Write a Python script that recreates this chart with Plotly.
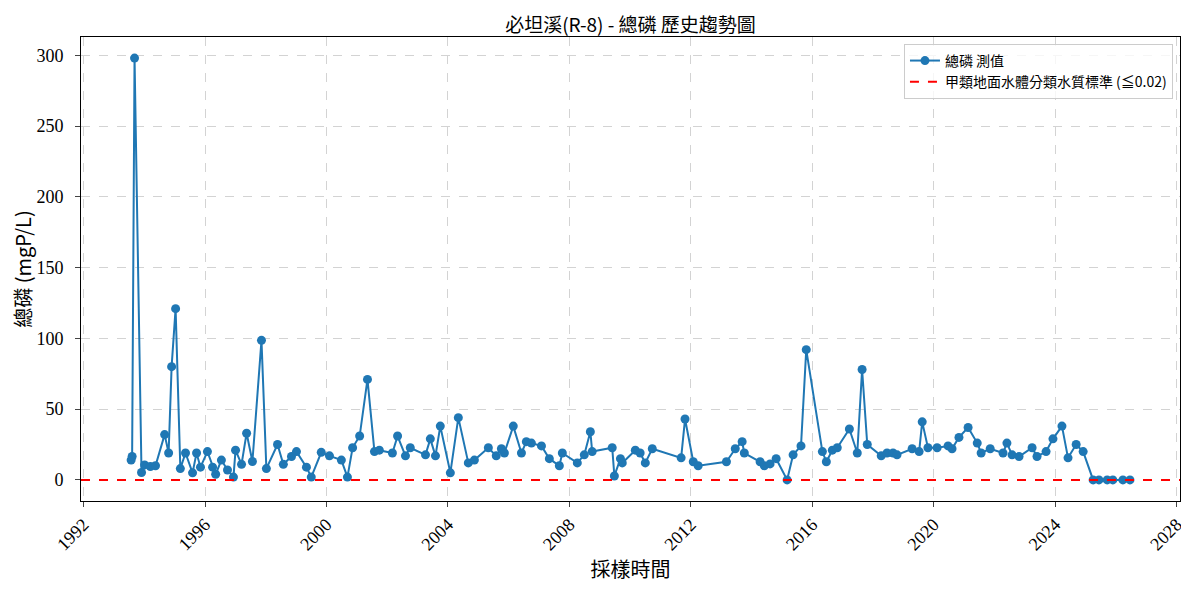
import plotly.graph_objects as go

# Colors
pri_color = "#1f77b4"
std_color = "red"

title_text = "必坦溪(R-8) - 總磷 歷史趨勢圖"
series_name = "總磷 測值"
std_name = "甲類地面水體分類水質標準 (≦0.02)"
std_value = 0.02

# ------------------------------
# Data
# ------------------------------

sample_dates = [
    "1993-07-26", "1993-08-07", "1993-09-05", "1993-11-28", "1994-01-04",
    "1994-03-14", "1994-05-15", "1994-09-02", "1994-10-20", "1994-11-25",
    "1995-01-12", "1995-03-10", "1995-05-11", "1995-08-04", "1995-09-21",
    "1995-11-07", "1996-01-30", "1996-04-01", "1996-05-08", "1996-07-16",
    "1996-09-27", "1996-12-08", "1997-01-02", "1997-03-15", "1997-05-15",
    "1997-07-24", "1997-11-10", "1998-01-08", "1998-05-22", "1998-07-31",
    "1998-11-06", "1999-01-05", "1999-05-05", "1999-07-02", "1999-10-30",
    "2000-02-06", "2000-06-28", "2000-09-09", "2000-11-10", "2001-02-03",
    "2001-05-08", "2001-07-31", "2001-09-28", "2002-03-04", "2002-05-05",
    "2002-08-08", "2002-10-05", "2003-04-06", "2003-06-03", "2003-08-04",
    "2003-10-01", "2004-01-30", "2004-05-05", "2004-09-02", "2004-11-14",
    "2005-05-01", "2005-08-04", "2005-10-05", "2005-11-10", "2006-02-25",
    "2006-06-03", "2006-08-01", "2006-10-01", "2007-01-30", "2007-05-05",
    "2007-09-02", "2007-10-08", "2008-04-05", "2008-06-28", "2008-09-09",
    "2008-10-01", "2009-05-30", "2009-06-25", "2009-09-06", "2009-09-28",
    "2010-03-04", "2010-05-01", "2010-07-02", "2010-09-24", "2011-09-06",
    "2011-10-23", "2012-01-30", "2012-03-29", "2013-03-04", "2013-06-18",
    "2013-09-09", "2013-10-05", "2014-04-13", "2014-06-03", "2014-08-11",
    "2014-10-23", "2015-03-04", "2015-05-15", "2015-08-18", "2015-10-20",
    "2016-05-01", "2016-06-18", "2016-08-29", "2016-10-27", "2017-03-22",
    "2017-06-25", "2017-08-22", "2017-10-23", "2018-04-09", "2018-06-18",
    "2018-08-29", "2018-10-16", "2019-04-16", "2019-07-09", "2019-08-15",
    "2019-10-23", "2020-02-10", "2020-06-21", "2020-08-08", "2020-10-30",
    "2021-02-17", "2021-06-07", "2021-07-24", "2021-11-10", "2022-04-13",
    "2022-05-30", "2022-07-31", "2022-10-23", "2023-03-29", "2023-05-27",
    "2023-09-13", "2023-12-05", "2024-03-22", "2024-06-03", "2024-09-09",
    "2024-12-02", "2025-04-01", "2025-06-10", "2025-09-17", "2025-11-24",
    "2026-03-25", "2026-06-18",
]

tp_values = [
    14, 16.5, 298, 5.2, 10.6,
    9.5, 10, 32, 19, 80,
    121, 8, 19, 5, 19,
    9, 20, 9, 4, 14,
    7, 2, 21, 11, 33,
    13, 98.6, 8, 25, 11,
    16.5, 20, 9, 2, 19.5,
    17, 14, 2, 22.7, 31,
    71, 20, 21, 19, 31,
    17, 22.7, 17.7, 29, 17,
    38, 5, 44, 12, 14,
    22.7, 17, 22, 19, 38,
    19, 27, 26, 24, 15,
    10, 19, 12, 17.7, 34,
    20, 22.7, 2.8, 15, 12,
    21, 19, 12, 22, 15.6,
    43, 12.8, 10, 12.8, 22,
    27, 19, 12.8, 10, 11.3,
    15, 0, 17.7, 24, 92,
    20, 12.8, 21, 22.7, 36,
    19, 78, 25, 17, 19,
    19, 17.7, 22, 20, 41,
    22.7, 22.7, 24, 22, 30,
    37, 26, 19, 22, 19,
    26, 17.7, 16.5, 22.7, 16.5,
    20, 29, 38, 15.6, 25,
    20, 0, 0, 0, 0,
    0, 0,
]

x_range = ["1991-12-01", "2028-02-10"]
y_range = [-14.9, 312.9]
y_ticks = [0, 50, 100, 150, 200, 250, 300]

font_family = "Liberation Serif, Noto Sans CJK TC, serif"
cjk_family = "Noto Sans CJK TC, Liberation Serif, sans-serif"

# ------------------------------
# Plot!
# ------------------------------

fig = go.Figure()

fig.add_trace(
    go.Scatter(
        x=sample_dates,
        y=tp_values,
        mode="lines+markers",
        name=series_name,
        line=dict(color=pri_color, width=2),
        marker=dict(color=pri_color, size=9),
    )
)

# standard line spans the whole axis
fig.add_trace(
    go.Scatter(
        x=x_range,
        y=[std_value, std_value],
        mode="lines",
        name=std_name,
        line=dict(color=std_color, width=2, dash="dash"),
    )
)

# page body has an 8px margin, so the figure is sized to fit inside it
fig.update_layout(
    width=1181,
    height=582,
    font_family=font_family,
    font_color="black",
    template="simple_white",
    plot_bgcolor="white",
    paper_bgcolor="white",
    margin=dict(l=73, r=9, t=29, b=89),
    title=dict(
        text=title_text,
        x=0.5,
        xref="paper",
        xanchor="center",
        y=1,
        yref="paper",
        yanchor="bottom",
        pad=dict(b=5),
        font=dict(size=19, color="black", family=cjk_family),
    ),
    legend=dict(
        x=0.9936,
        xanchor="right",
        y=0.985,
        yanchor="top",
        bgcolor="rgba(255,255,255,0.8)",
        bordercolor="#cccccc",
        borderwidth=1,
        font=dict(size=14, family=cjk_family),
        tracegroupgap=0,
    ),
    showlegend=True,
)

fig.update_xaxes(
    type="date",
    range=x_range,
    dtick="M48",
    tick0="1992-01-01",
    tickformat="%Y",
    tickangle=-45,
    tickfont=dict(size=18),
    title=dict(text="採樣時間", font=dict(size=20, family=cjk_family), standoff=4),
    showline=True,
    linecolor="black",
    linewidth=1,
    mirror=True,
    ticks="outside",
    ticklen=5,
    showgrid=True,
    gridcolor="#d3d3d3",
    griddash="dash",
    gridwidth=1,
    zeroline=False,
    automargin=False,
)

fig.update_yaxes(
    range=y_range,
    tickvals=y_ticks,
    tickfont=dict(size=18),
    ticklabelstandoff=8,
    title=dict(text="總磷 (mgP/L)", font=dict(size=20, family=cjk_family), standoff=7),
    showline=True,
    linecolor="black",
    linewidth=1,
    mirror=True,
    ticks="outside",
    ticklen=5,
    showgrid=True,
    gridcolor="#d3d3d3",
    griddash="dash",
    gridwidth=1,
    zeroline=False,
    automargin=False,
)

fig.write_html("out.html")
